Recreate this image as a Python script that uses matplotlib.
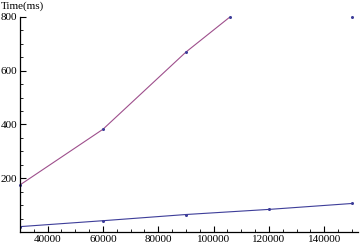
import numpy as np
import matplotlib
matplotlib.use('Agg')
import matplotlib.pyplot as plt
from matplotlib.ticker import MultipleLocator

n = [30000, 60000, 90000, 120000, 150000]
slow = [175, 382, 669, 915, 1300]
fast = [20, 42, 65, 84, 106]

red = '#9e4f8c'
blue = '#3d3d99'
ymax = 800

plt.rcParams['font.family'] = ['Liberation Serif', 'DejaVu Serif']

def main():
    fig = plt.figure(figsize=(3.6, 2.46), dpi=100)
    ax = fig.add_axes([20 / 360, 14 / 246, 338 / 360, (231.7 - 16.5) / 246])

    ax.plot(n, fast, color=blue, lw=0.8)
    ax.plot(n, fast, 'o', color=blue, ms=2.2, mew=0)
    ax.plot(n, slow, color=red, lw=0.8)

    # markers of the slow series: points inside range, the exit point, and the last point
    mx = [x for x, y in zip(n, slow) if y <= ymax]
    my = [y for y in slow if y <= ymax]
    for i in range(len(n) - 1):
        if slow[i] <= ymax < slow[i + 1]:
            mx.append(n[i] + (ymax - slow[i]) * (n[i + 1] - n[i]) / (slow[i + 1] - slow[i]))
            my.append(ymax)
    if slow[-1] > ymax:
        mx.append(n[-1])
        my.append(ymax)
    ax.plot(mx, my, 'o', color=blue, ms=2.2, mew=0, clip_on=False)

    ax.set_xlim(30000, 152200)
    ax.set_ylim(0, ymax)
    ax.spines['top'].set_visible(False)
    ax.spines['right'].set_visible(False)
    ax.spines['left'].set_linewidth(0.9)
    ax.spines['bottom'].set_linewidth(0.9)

    ax.xaxis.set_major_locator(MultipleLocator(20000))
    ax.xaxis.set_minor_locator(MultipleLocator(5000))
    ax.yaxis.set_major_locator(MultipleLocator(200))
    ax.yaxis.set_minor_locator(MultipleLocator(50))
    ax.set_xticks([40000, 60000, 80000, 100000, 120000, 140000])
    ax.set_yticks([200, 400, 600, 800])
    ax.tick_params(which='major', direction='in', length=4, width=0.8, labelsize=8, pad=2)
    ax.tick_params(which='minor', direction='in', length=2.3, width=0.6)

    fig.text(0.002, 0.995, 'Time(ms)', fontsize=8, va='top', ha='left')

    fig.savefig('out.png', dpi=100)

if __name__ == '__main__':
    main()
